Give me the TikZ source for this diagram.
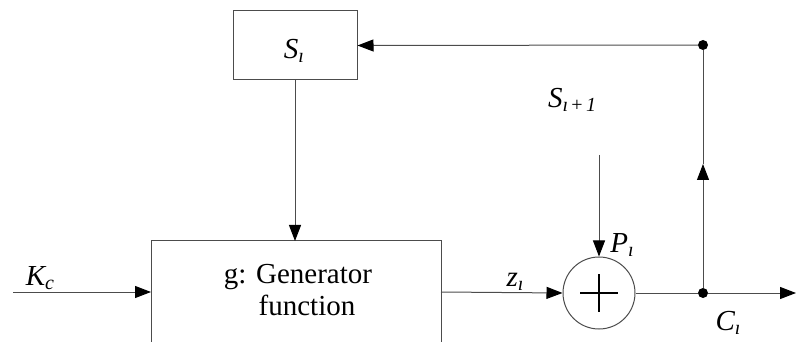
\documentclass[tikz,border=0pt]{standalone}
\usepackage{fontspec}
\setmainfont{Liberation Serif}
\usetikzlibrary{arrows.meta}
\newcommand{\sbx}[1]{\raisebox{-0.3ex}{\fontsize{20}{22}\selectfont #1}}
\begin{document}
\begin{tikzpicture}[x=1pt,y=-1pt,
  wire/.style={line width=1pt,draw=black!70},
  arr/.style={wire,-{Triangle[length=16pt,width=12pt,fill=black,color=black]}},
  blk/.style={draw=black!70,line width=1pt,inner sep=0pt},
  lbl/.style={font=\fontsize{29}{32}\selectfont\itshape,inner sep=0pt},
  dot/.style={circle,fill=black,inner sep=0pt,minimum size=10pt}]
\useasboundingbox (0,0) rectangle (796,342);
\clip (0,0) rectangle (796,342);
% blocks
\node[blk,minimum width=124pt,minimum height=69pt] (S) at (295,45.5) {};
\node[lbl] (Slbl) at (294,51) {S\sbx{ı}};
\node[blk,minimum width=290pt,minimum height=160pt] (G) at (296,321) {};
\node[font=\fontsize{29}{33}\selectfont,align=center,inner sep=0pt] (Gt) at (298,290) {g: Generator\\[-1pt]\hspace*{18pt}function};
\node[blk,circle,minimum size=72pt] (add) at (599,293) {};
\draw[line width=1.3pt] (add.center)++(-19,0) -- ++(38,0) (add.center)++(0,-19) -- ++(0,38);
% coordinates
\coordinate (kin) at (13,292);
\coordinate (gin) at (151,292);
\coordinate (gout) at (441,292);
\coordinate (ptop) at (599,155);
\node[dot] (d1) at (703,293) {};
\node[dot] (d2) at (703,45) {};
\coordinate (mid) at (703,164);
\coordinate (out) at (796,293);
\coordinate (gtop) at (296,241);
% connectors
\draw[arr] (kin) -- (gin);
\draw[arr] (gout) -- (add.west);
\draw[arr] (ptop) -- (add.north);
\draw[wire] (add.east) -- (d1);
\draw[arr] (d1) -- (out);
\draw[arr] (d1) -- (mid);
\draw[wire] (mid) -- (d2);
\draw[arr] (d2) -- (S.east);
\draw[arr] (S.south) -- (S.south |- gtop);
% labels
\node[lbl] (Kc) at (40,278) {K\sbx{c}};
\node[lbl] (zi) at (515,282) {z\sbx{ı}};
\node[lbl] (Pi) at (622,245) {P\sbx{ı}};
\node[lbl] (Sip) at (572,100) {S\sbx{ı\,\upshape+\,\itshape 1}};
\node[lbl] (Ci) at (728,323) {C\sbx{ı}};
\end{tikzpicture}
\end{document}
